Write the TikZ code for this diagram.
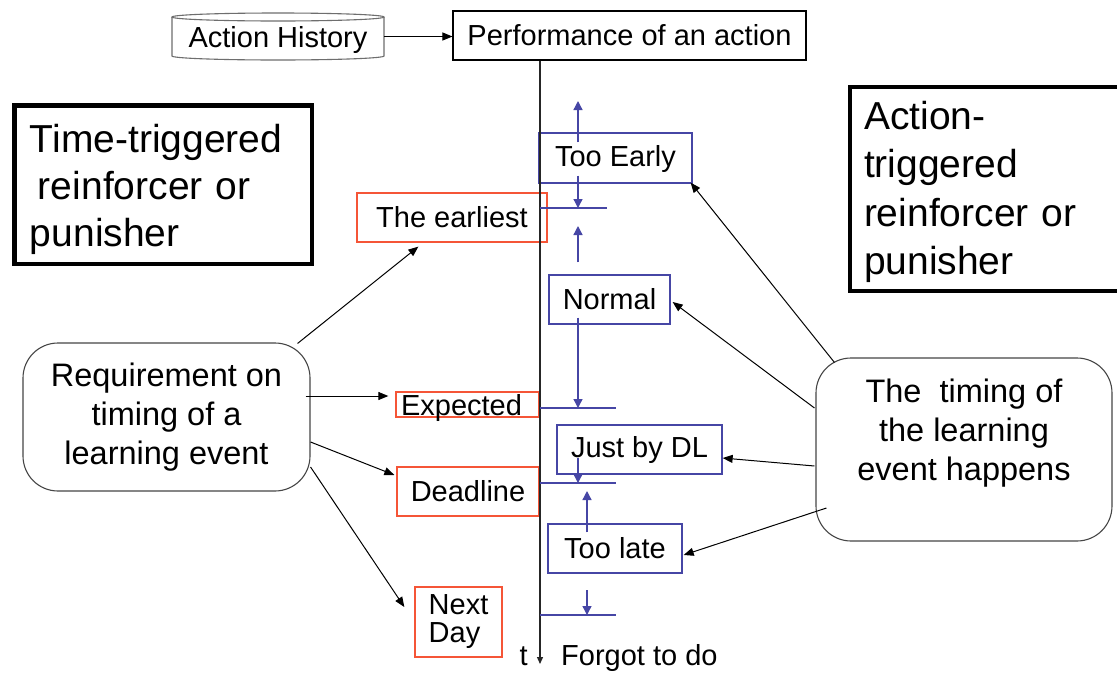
\documentclass[tikz,border=0pt]{standalone}
\usepackage{fontspec}
\setmainfont{Liberation Sans}
\usetikzlibrary{arrows.meta,calc}
\definecolor{boxred}{RGB}{245,85,55}
\definecolor{boxblue}{RGB}{70,70,165}
\definecolor{edgegray}{RGB}{70,70,70}
\definecolor{cylgray}{RGB}{110,110,110}

\begin{document}
\begin{tikzpicture}[x=1pt,y=-1pt,
  fsmall/.style={font=\fontsize{29}{28}\selectfont},
  fmid/.style={font=\fontsize{32.5}{39}\selectfont},
  plainbox/.style={draw=black,line width=1.1pt,inner sep=0pt,fsmall},
  redbox/.style={draw=boxred,line width=1.3pt,inner sep=0pt,fsmall},
  bluebox/.style={draw=boxblue,line width=1.3pt,inner sep=0pt,fsmall},
  kindbox/.style={draw=black,line width=4.5pt,inner ysep=0pt,align=left},
  roundbox/.style={draw=edgegray,line width=1.1pt,rounded corners=35pt,inner sep=0pt,align=center,fmid},
  cyl/.style={draw=cylgray,line width=1.1pt},
  arr/.style={draw=black,line width=1pt,-{Triangle[length=10pt,width=8pt]}},
  barr/.style={draw=boxblue,line width=1.3pt,-{Triangle[length=9pt,width=9pt]}},
  tickline/.style={draw=boxblue,line width=1.3pt},
  axisline/.style={draw=black!85,line width=1.3pt,-{Triangle[length=7pt,width=6pt]}},
]
\clip (0,0) rectangle (1117,673);
\fill[white] (0,0) rectangle (1117,673);

% action history store and the action it feeds
\node[fsmall, minimum width=212pt, minimum height=39pt, inner sep=0pt, outer sep=0pt, text depth=0pt] (hist) at (278,36.5) {Action History};
\draw[cyl] (hist.north west) -- (hist.south west)
  arc[start angle=180, end angle=360, x radius=106pt, y radius=4pt] -- (hist.north east);
\draw[cyl] (hist.north) ellipse[x radius=106pt, y radius=4pt];
\node[plainbox, minimum width=353pt, minimum height=49pt] (perf) at (629.5,35.5) {Performance of an action};

% category boxes
\node[kindbox, font=\fontsize{39}{47}\selectfont, text width=266.5pt, inner xsep=15.5pt,
      minimum width=297.5pt, minimum height=158.5pt] (ttbox) at (163.25,184.75)
  {\rule{0pt}{36.7pt}Time-triggered\\\hspace*{8pt}reinforcer or\\punisher};
\node[kindbox, font=\fontsize{39}{48.5}\selectfont, text width=252pt, inner xsep=14pt,
      minimum width=280pt, minimum height=204pt] (atbox) at (990,189)
  {\rule{0pt}{33.7pt}Action-\\triggered\\reinforcer or\\punisher};

% rounded source boxes
\node[roundbox, minimum width=287pt, minimum height=148pt] (req) at (166.5,417)
  {Requirement on\\timing of a\\learning event};
\node[roundbox, minimum width=296pt, minimum height=183pt] (timing) at (964,449.5)
  {The~ timing of\\the learning\\event happens\rule[-38.7pt]{0pt}{38.7pt}};

% required times
\node[redbox, minimum width=190pt, minimum height=49pt] (earliest) at (452,217.5) {The earliest};
\node[redbox, minimum width=143pt, minimum height=25pt,
      label={[fsmall, xshift=-6pt, yshift=-3.5pt]center:Expected}] (expected) at (467.5,404.5) {};
\node[redbox, minimum width=142pt, minimum height=49pt] (deadline) at (468,491.5) {Deadline};
\node[redbox, minimum width=87pt, minimum height=70pt, align=left] (nextday) at (458.5,622) {Next\\Day};

% actual times
\node[bluebox, minimum width=153pt, minimum height=50pt, text depth=3.5pt] (early) at (615.5,158) {Too Early};
\node[bluebox, minimum width=121pt, minimum height=49pt] (normal) at (609.5,299.5) {Normal};
\node[bluebox, minimum width=165pt, minimum height=49pt] (justdl) at (639.5,449.5) {Just by DL};
\node[bluebox, minimum width=134pt, minimum height=49pt] (late) at (615,548.5) {Too late};

% time axis
\coordinate (tend) at (540,664);
\draw[axisline] (tend |- perf.south) -- (tend);
\node[fsmall, anchor=base east, inner sep=0pt] (tlab) at (528,665) {t};
\node[fsmall, anchor=base west, inner sep=0pt] (forgot) at (561,665) {Forgot to do};

% marks on the axis
\coordinate (tk1) at (607,208);
\coordinate (tk2) at (616,408);
\coordinate (tk3) at (616,483);
\coordinate (tk4) at (616,615);
\draw[tickline] (tend |- tk1) -- (tk1);
\draw[tickline] (tend |- tk2) -- (tk2);
\draw[tickline] (tend |- tk3) -- (tk3);
\draw[tickline] (tend |- tk4) -- (tk4);

% interval arrows
\coordinate (upA) at (578,101);
\coordinate (upB) at (578,226);
\coordinate (upC) at (587,491);
\coordinate (dnD) at (587,590);
\draw[barr] ($(early.north)+(-37.5,10)$) -- (upA);
\draw[barr] ($(early.south)+(-37.5,-8)$) -- (tk1 -| upA);
\draw[barr] ($(normal.north)+(-31.5,-12)$) -- (upB);
\draw[barr] ($(normal.south)+(-31.5,-7)$) -- (tk2 -| upA);
\draw[barr] ($(justdl.south)+(-61.5,-17)$) -- (tk3 -| upA);
\draw[barr] ($(late.north)+(-28,9)$) -- (upC);
\draw[barr] (dnD) -- (tk4 -| dnD);

% connectors
\draw[arr] (hist.east) -- (hist.east -| perf.west);
\draw[arr] ($(req.north east)+(-13,1)$) -- ($(earliest.south west)+(62,4)$);
\draw[arr] ($(req.east)+(-5,-21)$) -- ($(expected.west)+(-7,-8.5)$);
\draw[arr] ($(req.east)+(0,25)$) -- ($(deadline.west)+(-2,-16.5)$);
\draw[arr] ($(req.east)+(0,50)$) -- ($(nextday.west)+(-10,-15)$);
\draw[arr] ($(timing.north west)+(19,5)$) -- ($(early.south east)+(-2,-1)$);
\draw[arr] ($(timing.west)+(-1,-41.5)$) -- ($(normal.east)+(2,2.5)$);
\draw[arr] ($(timing.west)+(-1,16.5)$) -- ($(justdl.east)+(0,8.5)$);
\draw[arr] ($(timing.west)+(11,58.5)$) -- ($(late.east)+(1,6.5)$);
\end{tikzpicture}
\end{document}
